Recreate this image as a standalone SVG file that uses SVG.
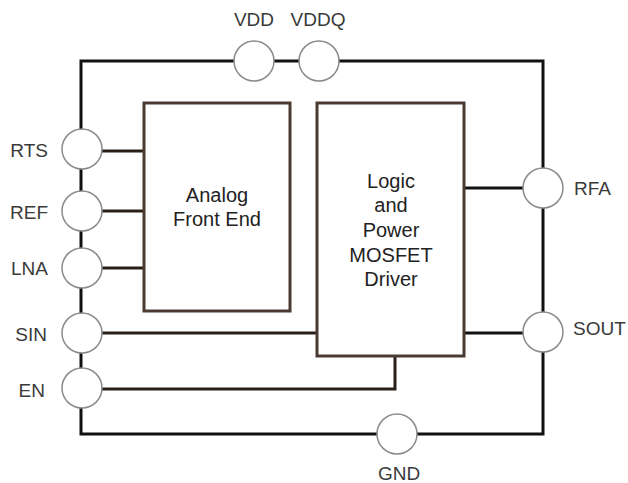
<svg xmlns="http://www.w3.org/2000/svg" width="628" height="483" viewBox="0 0 628 483">
<style>
.frame{fill:none;stroke:#111;stroke-width:3}
.wire{fill:none;stroke:#2a1f17;stroke-width:3}
.box{fill:#fff;stroke:#4a3a32;stroke-width:3}
.pin{fill:#fff;stroke:#8a8a8a;stroke-width:1.5}
text{font-family:"Liberation Sans",Arial,sans-serif;font-size:19px;fill:#3a3a3a}
.b{font-size:20px;fill:#222}
.c{text-anchor:middle}
.e{text-anchor:end}
</style>
<rect width="628" height="483" fill="#fff"/>
<g id="connectors">
<path class="frame" d="M81,149 V61 H543 V434 H81 V149"/>
<path class="wire" d="M82,151 H144"/>
<path class="wire" d="M82,211 H144"/>
<path class="wire" d="M82,268 H144"/>
<path class="wire" d="M82,333 H318"/>
<path class="wire" d="M82,389 H395 V356"/>
<path class="frame" d="M464,188 H543"/>
<path class="frame" d="M464,333 H543"/>
</g>
<g id="afe">
<rect class="box" x="144" y="103" width="146" height="208"/>
<text class="c b" x="217" y="202">Analog</text>
<text class="c b" x="217" y="226">Front End</text>
</g>
<g id="logic">
<rect class="box" x="317" y="103" width="147" height="253"/>
<text class="c b" x="391" y="188">Logic</text>
<text class="c b" x="391" y="212">and</text>
<text class="c b" x="391" y="237">Power</text>
<text class="c b" x="391" y="262">MOSFET</text>
<text class="c b" x="391" y="286">Driver</text>
</g>
<g id="pin-vdd"><circle class="pin" cx="254" cy="61" r="20"/><text class="c" x="254" y="26">VDD</text></g>
<g id="pin-vddq"><circle class="pin" cx="319" cy="61" r="20"/><text class="c" x="318" y="26">VDDQ</text></g>
<g id="pin-rts"><circle class="pin" cx="82" cy="149" r="20"/><text class="e" x="48" y="157">RTS</text></g>
<g id="pin-ref"><circle class="pin" cx="82" cy="211" r="20"/><text class="e" x="48" y="219">REF</text></g>
<g id="pin-lna"><circle class="pin" cx="82" cy="268" r="20"/><text class="e" x="48" y="275">LNA</text></g>
<g id="pin-sin"><circle class="pin" cx="82" cy="333" r="20"/><text class="e" x="47" y="341">SIN</text></g>
<g id="pin-en"><circle class="pin" cx="82" cy="388" r="20"/><text class="e" x="45" y="397">EN</text></g>
<g id="pin-gnd"><circle class="pin" cx="397" cy="434" r="20"/><text class="c" x="399" y="480">GND</text></g>
<g id="pin-rfa"><circle class="pin" cx="543" cy="188" r="20"/><text x="574" y="195">RFA</text></g>
<g id="pin-sout"><circle class="pin" cx="543" cy="332" r="20"/><text x="573" y="335">SOUT</text></g>
</svg>
